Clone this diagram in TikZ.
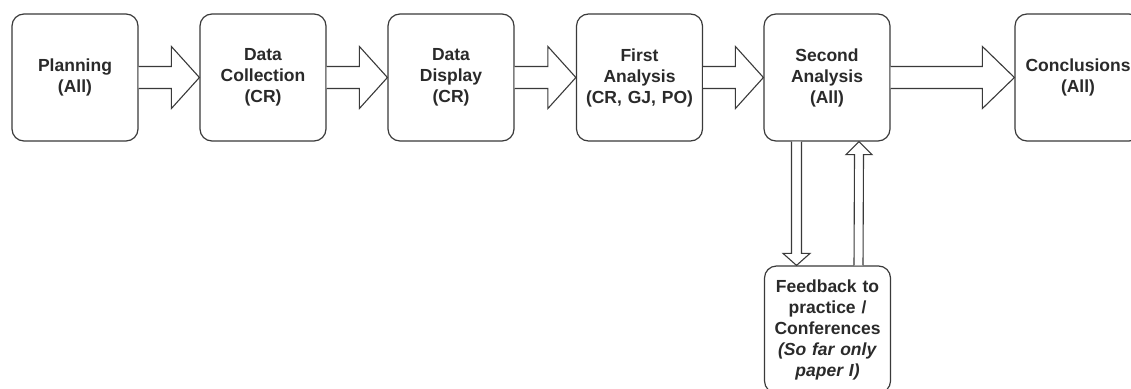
\documentclass[tikz,border=0pt]{standalone}
\usepackage{fontspec}
\setmainfont{Liberation Sans}
\usetikzlibrary{calc}
\definecolor{edgegray}{HTML}{3A3A3A}
\definecolor{textgray}{HTML}{2A2A2A}
\tikzset{
  stagebox/.style={draw=edgegray, line width=1.2pt, rounded corners=12pt, fill=white,
    minimum width=126pt, minimum height=127pt, text width=122pt, align=center,
    inner sep=2pt, text=textgray, font=\fontsize{17.5}{21}\selectfont\bfseries},
  barrow/.style={draw=edgegray, line width=1.1pt, fill=white, line join=miter}
}
\newcommand\harrow[4]{% from, to, head length, head half
  \draw[barrow] ($(#1.east)+(0,-11)$) -- ($(#2.west)+(-#3,-11)$) -- ($(#2.west)+(-#3,-#4)$)
    -- (#2.west) -- ($(#2.west)+(-#3,#4)$) -- ($(#2.west)+(-#3,11)$) -- ($(#1.east)+(0,11)$);}
\begin{document}
\begin{tikzpicture}[x=1pt,y=-1pt]
\useasboundingbox[fill=white] (0,0) rectangle (1131,388);
\node[stagebox] (plan) at (75,77.5) {Planning\\(All)};
\node[stagebox] (dcol) at (263,77.5) {Data\\Collection\\(CR)};
\node[stagebox] (ddis) at (451,77.5) {Data\\Display\\(CR)};
\node[stagebox] (fana) at (639.5,77.5) {First\\Analysis\\(CR, GJ, PO)};
\node[stagebox] (sana) at (827,77.5) {Second\\Analysis\\(All)};
\node[stagebox] (conc) at (1078,77.5) {Conclusions\\(All)};
\node[stagebox] (feed) at (827.5,329.5) {Feedback to\\practice /\\Conferences\\\textit{(So far only}\\\textit{paper I)}};
\harrow{plan}{dcol}{28}{31}
\harrow{dcol}{ddis}{28}{31}
\harrow{ddis}{fana}{28}{31}
\harrow{fana}{sana}{28}{31}
\harrow{sana}{conc}{32}{31}
% down arrow: second analysis -> feedback
\coordinate (dtop) at ($(sana.south)+(-30.5,0)$);
\coordinate (dtip) at ($(feed.north)+(-31,0)$);
\draw[barrow] ($(dtop)+(-5,0)$) -- ($(dtip)+(-5,-12)$) -- ($(dtip)+(-13.5,-12)$) -- (dtip)
  -- ($(dtip)+(13.5,-12)$) -- ($(dtip)+(5,-12)$) -- ($(dtop)+(5,0)$);
% up arrow: feedback -> second analysis
\coordinate (ubot) at ($(feed.north)+(31,0)$);
\coordinate (utip) at ($(sana.south)+(32,0)$);
\draw[barrow] ($(ubot)+(-4.5,0)$) -- ($(utip)+(-4.5,13)$) -- ($(utip)+(-13,13)$) -- (utip)
  -- ($(utip)+(13,13)$) -- ($(utip)+(4.5,13)$) -- ($(ubot)+(4.5,0)$);
\end{tikzpicture}
\end{document}
